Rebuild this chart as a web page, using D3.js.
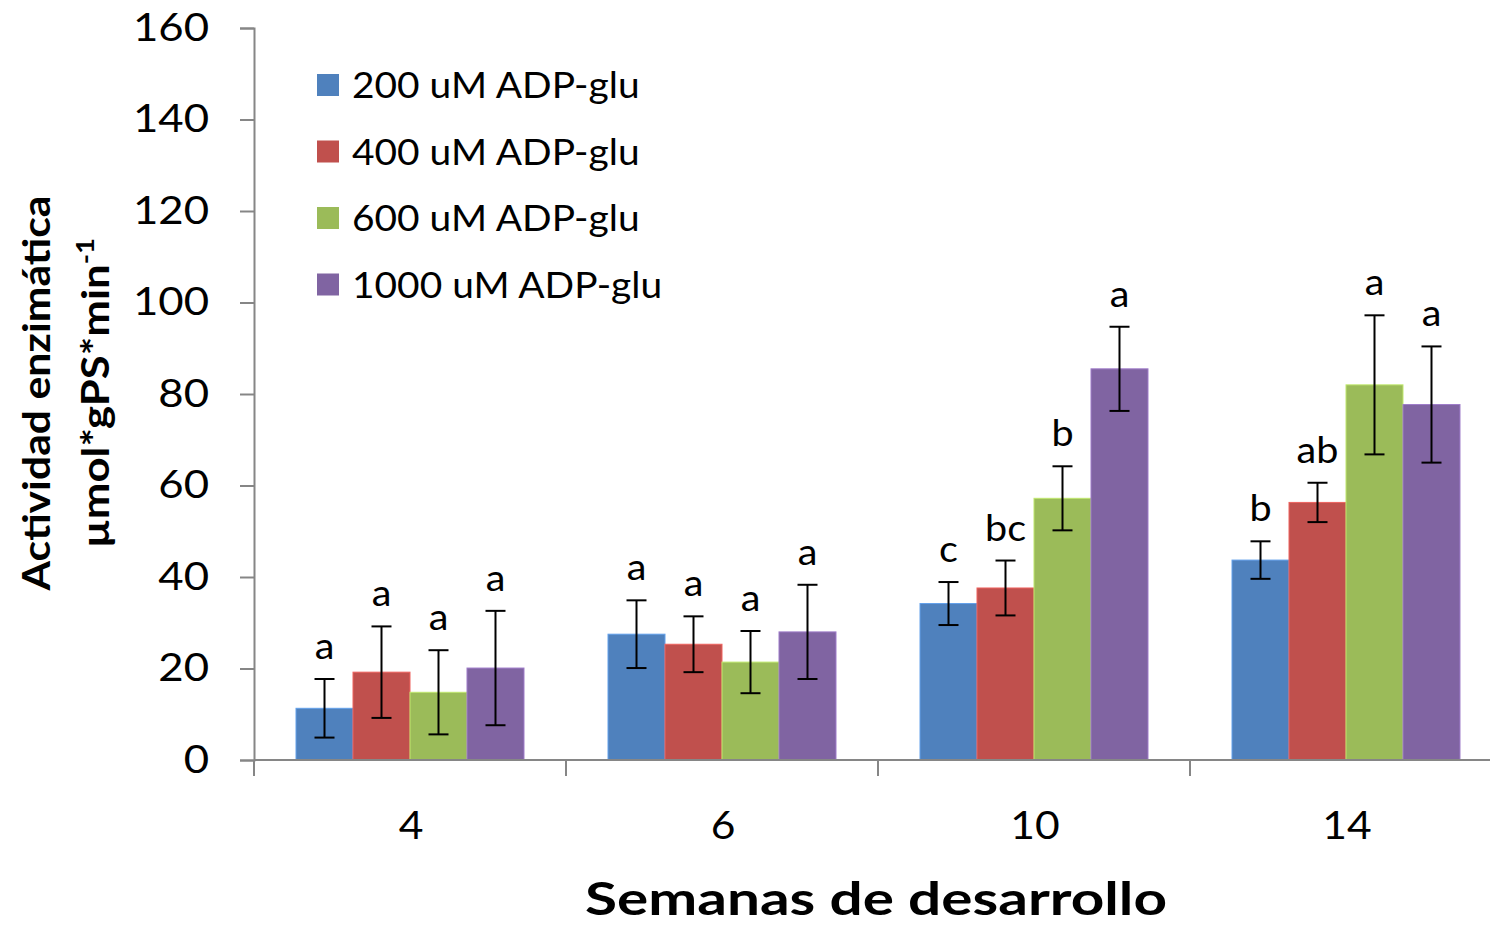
<!DOCTYPE html>
<html>
<head>
<meta charset="utf-8">
<script src="https://cdn.jsdelivr.net/npm/d3@7"></script>
<style>
  html, body { margin: 0; padding: 0; background: #fff; }
  svg { display: block; font-family: Lato, "Open Sans", sans-serif; }
</style>
</head>
<body>
<svg id="chart" width="1490" height="926"></svg>
<script>
// Weeks of development (x categories)
const weeks = ["4", "6", "10", "14"];
// Substrate concentrations (series)
const series = ["200 uM ADP-glu", "400 uM ADP-glu", "600 uM ADP-glu", "1000 uM ADP-glu"];
const colors = ["#4F81BD", "#C0504D", "#9BBB59", "#8064A2"];

// Mean enzymatic activity per series, one value per week
const act200  = [11.3, 27.5, 34.2, 43.7];
const act400  = [19.2, 25.3, 37.6, 56.3];
const act600  = [14.8, 21.4, 57.2, 82.0];
const act1000 = [20.1, 28.0, 85.5, 77.7];

// Standard deviation (error bar half-length)
const err200  = [6.4, 7.4, 4.7, 4.1];
const err400  = [10.0, 6.1, 6.0, 4.3];
const err600  = [9.2, 6.8, 7.0, 15.2];
const err1000 = [12.5, 10.3, 9.2, 12.7];

// Significance letters
const sig200  = ["a", "a", "c", "b"];
const sig400  = ["a", "a", "bc", "ab"];
const sig600  = ["a", "a", "b", "a"];
const sig1000 = ["a", "a", "a", "a"];

const yTicks = [0, 20, 40, 60, 80, 100, 120, 140, 160];

const values = [act200, act400, act600, act1000];
const errors = [err200, err400, err600, err1000];
const letters = [sig200, sig400, sig600, sig1000];

const svg = d3.select("#chart");
const axisColor = "#868686";

// Widen glyphs horizontally (Calibri-like proportions)
function widen(sel, k) {
  sel.each(function () {
    const len = this.getComputedTextLength();
    d3.select(this).attr("textLength", len * k).attr("lengthAdjust", "spacingAndGlyphs");
  });
}
function fitTo(sel, w) {
  sel.attr("textLength", w).attr("lengthAdjust", "spacingAndGlyphs");
}

const x0 = d3.scaleBand().domain(weeks).range([254, 1502]).padding(0);
const x1 = d3.scaleBand().domain(d3.range(series.length))
  .range([0, x0.bandwidth()]).paddingInner(0).paddingOuter(0.737);
const y = d3.scaleLinear().domain([0, 160]).range([760, 28]);

// Y axis
const yAxis = svg.append("g").attr("transform", "translate(254,0)")
  .call(d3.axisLeft(y).tickValues(yTicks).tickSize(14).tickPadding(31));
yAxis.select(".domain").attr("stroke", axisColor).attr("stroke-width", 2);
yAxis.selectAll(".tick line").attr("stroke", axisColor).attr("stroke-width", 2);
yAxis.selectAll(".tick text").attr("fill", "#000").style("font-size", "38px")
  .style("font-family", "Lato, 'Open Sans', sans-serif");
widen(yAxis.selectAll(".tick text"), 1.15);

// Bars
const flat = [];
weeks.forEach((w, i) => series.forEach((s, j) => {
  flat.push({ week: w, s: j, v: values[j][i], e: errors[j][i], t: letters[j][i] });
}));

const g = svg.append("g");
g.selectAll("rect").data(flat).enter().append("rect")
  .attr("x", d => x0(d.week) + x1(d.s))
  .attr("y", d => y(d.v))
  .attr("width", x1.bandwidth())
  .attr("height", d => y(0) - y(d.v))
  .attr("fill", d => colors[d.s])
  .attr("stroke", d => d3.color(colors[d.s]).brighter(0.6))
  .attr("stroke-width", 1);

// X axis (category boundary ticks)
const xa = svg.append("g");
xa.append("line").attr("x1", 254).attr("x2", 1490).attr("y1", y(0)).attr("y2", y(0))
  .attr("stroke", axisColor).attr("stroke-width", 2);
xa.selectAll("line.tk").data(weeks).enter().append("line").attr("class", "tk")
  .attr("x1", d => x0(d)).attr("x2", d => x0(d))
  .attr("y1", y(0)).attr("y2", y(0) + 16)
  .attr("stroke", axisColor).attr("stroke-width", 2);
const xt = xa.selectAll("text").data(weeks).enter().append("text")
  .attr("x", d => x0(d) + x0.bandwidth() / 2 + 1)
  .attr("y", 839)
  .attr("text-anchor", "middle")
  .style("font-size", "38px")
  .text(d => d);
widen(xt, 1.12);

// Error bars
const cap = 10;
const eb = svg.append("g").attr("stroke", "#000").attr("stroke-width", 2);
flat.forEach(d => {
  const cx = x0(d.week) + x1(d.s) + x1.bandwidth() / 2;
  eb.append("line").attr("x1", cx).attr("x2", cx).attr("y1", y(d.v + d.e)).attr("y2", y(d.v - d.e));
  eb.append("line").attr("x1", cx - cap).attr("x2", cx + cap).attr("y1", y(d.v + d.e)).attr("y2", y(d.v + d.e));
  eb.append("line").attr("x1", cx - cap).attr("x2", cx + cap).attr("y1", y(d.v - d.e)).attr("y2", y(d.v - d.e));
});

// Significance letters
const lt = svg.append("g").selectAll("text").data(flat).enter().append("text")
  .attr("x", d => x0(d.week) + x1(d.s) + x1.bandwidth() / 2)
  .attr("y", d => y(d.v + d.e) - 20)
  .attr("text-anchor", "middle")
  .style("font-size", "36px")
  .text(d => d.t);
widen(lt, 1.1);

// Legend
const lg = svg.append("g").attr("transform", "translate(317,85)");
series.forEach((s, i) => {
  const row = lg.append("g").attr("transform", `translate(0,${i * 66.5})`);
  row.append("rect").attr("x", 0).attr("y", -11).attr("width", 22).attr("height", 22)
    .attr("fill", colors[i]);
  const t = row.append("text").attr("x", 35).attr("y", 13).style("font-size", "36px").text(s);
  widen(t, 1.08);
});

// Axis titles
const xTitle = svg.append("text").attr("x", 876).attr("y", 915).attr("text-anchor", "middle")
  .style("font-size", "46px").style("font-weight", "bold").text("Semanas de desarrollo");
fitTo(xTitle, 582);

const yg = svg.append("g").attr("transform", "translate(0,393) rotate(-90)");
const y1t = yg.append("text").attr("x", 0).attr("y", 50).attr("text-anchor", "middle")
  .style("font-size", "38px").style("font-weight", "bold").text("Actividad enzimática");
fitTo(y1t, 395);
const y2t = yg.append("text").attr("x", 0).attr("y", 109).attr("text-anchor", "middle")
  .style("font-size", "38px").style("font-weight", "bold");
y2t.append("tspan").text("µmol*gPS*min");
y2t.append("tspan").attr("dy", -15).style("font-size", "24px").text("-1");
fitTo(y2t, 310);
</script>
</body>
</html>
